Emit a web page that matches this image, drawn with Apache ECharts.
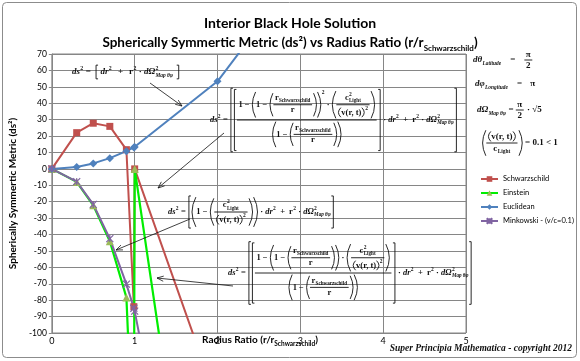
<!DOCTYPE html>
<html><head><meta charset="utf-8">
<script src="https://cdn.jsdelivr.net/npm/echarts@6/dist/echarts.min.js"></script>
<style>html,body{margin:0;padding:0;background:#fff}#c{width:580px;height:361px}</style>
</head><body><div id="c"></div><script>
// ---- data ----
const radiusRatio   = [0, 0.3, 0.5, 0.7, 0.9, 0.99, 1, 2, 3];
const schwarzschild = [0, 22.07, 27.83, 25.90, 11.70, -83.95, 0, -142.65, -475.5];
const einstein      = [0, -7.93, -22.17, -44.10, -78.30, -182.95, 0, -342.65, -775.5];
const euclidean     = [0, 1.20, 3.33, 6.54, 10.80, 13.07, 13.34, 53.35, 120.0];
const minkowski     = [0, -7.80, -21.67, -42.46, -70.20, -84.94, -86.66, -346.65, -779.97];
const seriesNames   = ['Schwarzschild', 'Einstein', 'Euclidean', 'Minkowski - (v/c=0.1)'];
const xRange = [0, 5], xStep = 1;
const yRange = [-100, 70], yStep = 10;

function pairs(ys){ return radiusRatio.map((x,i)=>[x, ys[i]]); }

// ---- tiny math-layout helper for the equation annotations ----
const MF = '"Liberation Serif","DejaVu Serif",serif';
const mctx = document.createElement('canvas').getContext('2d');
let BASE = 8.5;
function fnt(sz,it){ return (it?'italic ':'')+'bold '+sz+'px '+MF; }
function T(s,sz,it){ sz=sz||BASE; const f=fnt(sz,it); mctx.font=f; const w=mctx.measureText(s).width;
  return {w:w,a:sz*0.42,d:sz*0.42,draw(x,y,o){o.push({type:'text',x:x,y:y,silent:true,z:20,
    style:{text:s,font:f,fill:'#111',textAlign:'left',textVerticalAlign:'middle',align:'left',verticalAlign:'middle'}});}};}
function Sp(w){ return {w:w,a:0,d:0,draw(){}}; }
function R(){ const it=[].slice.call(arguments); let w=0,a=0,d=0;
  it.forEach(n=>{w+=n.w;a=Math.max(a,n.a);d=Math.max(d,n.d);});
  return {w:w,a:a,d:d,draw(x,y,o){let cx=x; it.forEach(n=>{n.draw(cx,y,o);cx+=n.w;});}}; }
function F(num,den){ const pad=1.5,g=1.6; const w=Math.max(num.w,den.w)+2*pad;
  return {w:w+1,a:num.a+num.d+g,d:den.a+den.d+g,draw(x,y,o){
    num.draw(x+(w-num.w)/2,y-g-num.d,o); den.draw(x+(w-den.w)/2,y+g+den.a,o);
    o.push({type:'line',silent:true,z:20,shape:{x1:x,y1:y,x2:x+w,y2:y},style:{stroke:'#111',lineWidth:0.9}});}}; }
function delim(t,x,y,h,dw,left,o){
  const st={stroke:'#111',lineWidth:0.9,fill:'none'};
  if(t==='['||t===']'){
    const pts = left ? [[x+dw,y-h],[x+1,y-h],[x+1,y+h],[x+dw,y+h]] : [[x,y-h],[x+dw-1,y-h],[x+dw-1,y+h],[x,y+h]];
    o.push({type:'polyline',silent:true,z:20,shape:{points:pts},style:st});
  } else {
    const xt = left ? x+dw : x, xc = left ? x+0.6 : x+dw-0.6, cp = 2*xc-xt;
    o.push({type:'bezierCurve',silent:true,z:20,shape:{x1:xt,y1:y-h,x2:xt,y2:y+h,cpx1:cp,cpy1:y},style:st});
  } }
function D(c,l,r){ const h=Math.max(c.a,c.d)+1.2; const dw=l==='['?3:Math.max(3,Math.min(5,h*0.3));
  return {w:c.w+2*dw+1,a:h,d:h,draw(x,y,o){ delim(l,x,y,h,dw,true,o); c.draw(x+dw+0.5,y,o); delim(r,x+dw+1+c.w,y,h,dw,false,o);}}; }
function SS(b,sp,sb){ const so=Math.max(3.2,b.a-1), bo=Math.max(2.8,b.d-0.5);
  const w=b.w+Math.max(sp?sp.w:0,sb?sb.w:0)+0.5;
  return {w:w,a:Math.max(b.a,sp?so+sp.a:0),d:Math.max(b.d,sb?bo+sb.d:0),draw(x,y,o){
    b.draw(x,y,o); if(sp) sp.draw(x+b.w+0.3,y-so,o); if(sb) sb.draw(x+b.w+0.3,y+bo,o);}}; }
function sup2(n){ return SS(n,T('2',BASE*0.65),null); }
function sub(n,s,it){ return SS(n,null,T(s,BASE*0.6,it)); }
const rsOverR = ()=>F(sub(T('r'),'Schwarzschild'),T('r'));
const cOverV  = ()=>F(SS(T('c'),T('2',BASE*0.65),T('Light',BASE*0.6)), sup2(D(T('v(r, t)'),'(',')')));
const dOmega  = ()=>SS(T('dΩ',BASE,true),T('2',BASE*0.65),T('Map θφ',BASE*0.6,true));
const tail    = ()=>R(T(' · '),sup2(T('dr',BASE,true)),Sp(2),T(' + '),Sp(2),sup2(T('r')),T(' · '),dOmega());
const lhs     = ()=>R(sup2(T('ds',BASE,true)),T(' = '));
const oneMinusRs = ()=>D(R(T('1 − '),D(rsOverR(),'(',')')),'(',')');

const G = [];
function place(node,x,y){ node.draw(x,y,G); }
function arrow(x1,y1,x2,y2){
  G.push({type:'line',silent:true,z:20,shape:{x1:x1,y1:y1,x2:x2,y2:y2},style:{stroke:'#111',lineWidth:0.8}});
  const an=Math.atan2(y2-y1,x2-x1),L=7,s=0.38;
  G.push({type:'polyline',silent:true,z:20,shape:{points:[[x2-L*Math.cos(an-s),y2-L*Math.sin(an-s)],[x2,y2],[x2-L*Math.cos(an+s),y2-L*Math.sin(an+s)]]},style:{stroke:'#111',lineWidth:0.8,fill:'none'}});
}

BASE = 9;
place(R(lhs(), Sp(2), D(R(Sp(2),sup2(T('dr',BASE,true)),Sp(6),T('+'),Sp(6),sup2(T('r')),T(' · '),dOmega(),Sp(3)),'[',']')), 72, 72);
BASE = 8.5;
place(R(lhs(), D(R(D(F(R(T('1 − '),sup2(oneMinusRs()),T(' · '),D(cOverV(),'(',')')), oneMinusRs()),'[',']'), tail()),'[',']')), 210, 120);
place(R(lhs(), D(R(D(R(T('1 − '),D(cOverV(),'(',')')),'(',')'), tail()),'[',']')), 168, 212);
place(R(lhs(), D(R(D(F(R(T('1 − '),oneMinusRs(),T(' · '),D(cOverV(),'(',')')), oneMinusRs()),'[',']'), tail()),'[',']')), 228, 273);

BASE = 9;
place(R(sub(T('dθ',BASE,true),'Latitude',true),Sp(9),T('='),Sp(9),F(T('π'),T('2'))), 473, 60);
place(R(sub(T('dφ',BASE,true),'Longitude',true),Sp(9),T('='),Sp(8),T('π')), 475, 84);
place(R(sub(T('dΩ',BASE,true),'Map θφ',true),T(' = '),F(T('π'),T('2')),T(' · '),T('√5')), 477, 110);
place(R(D(F(D(T('v(r, t)'),'(',')'),sub(T('c'),'Light')),'(',')'),T(' = 0.1 < 1')), 482, 143);

arrow(150,83,182,106);
arrow(224,133,158,188);
arrow(190,219,116,250);
arrow(233,286,157,278);

// frame, axis title, footer
G.push({type:'rect',silent:true,z:0,shape:{x:2.5,y:2.5,width:574,height:355,r:4},style:{fill:'none',stroke:'#8c8c8c',lineWidth:1}});
G.push({type:'text',silent:true,z:20,x:260,y:340,style:{text:'{a|Radius Ratio (r/r}{s|Schwarzschild}{a|)}',textAlign:'center',textVerticalAlign:'middle',align:'center',verticalAlign:'middle',
  rich:{a:{fontFamily:'Lato',fontWeight:'bold',fontSize:10,fill:'#000',color:'#000',lineHeight:14},s:{fontFamily:'Lato',fontWeight:'bold',fontSize:6.5,fill:'#000',color:'#000',lineHeight:14,verticalAlign:'bottom',padding:[4,0,0,0]}}}});
G.push({type:'text',silent:true,z:20,x:572,y:349,style:{text:'Super Principia Mathematica - copyright 2012',font:'italic bold 9.5px '+MF,fill:'#111',textAlign:'right',textVerticalAlign:'middle',align:'right',verticalAlign:'middle'}});

const chart = echarts.init(document.getElementById('c'));
const axisGray = '#868686';
chart.setOption({
  animation:false,
  backgroundColor:'#fff',
  title:{
    left:'center', top:9,
    text:'{t|Interior Black Hole Solution}\n{a|Spherically Symmertic Metric (ds²) vs Radius Ratio (r/r}{s|Schwarzschild}{a|)}',
    textStyle:{rich:{
      t:{fontFamily:'Lato',fontWeight:'bold',fontSize:14,lineHeight:19,color:'#000'},
      a:{fontFamily:'Lato',fontWeight:'bold',fontSize:13.5,lineHeight:19,color:'#000'},
      s:{fontFamily:'Lato',fontWeight:'bold',fontSize:8,lineHeight:19,color:'#000',verticalAlign:'bottom',padding:[5,0,0,0]}
    }}
  },
  grid:{left:51,right:114,top:54,bottom:28,show:true,borderColor:axisGray,borderWidth:1},
  legend:{orient:'vertical',left:475,top:170,itemWidth:17,itemHeight:7,itemGap:6,
    textStyle:{fontFamily:'Lato',fontSize:7.5,color:'#000'},data:seriesNames},
  xAxis:{type:'value',min:xRange[0],max:xRange[1],interval:xStep,
    axisLine:{onZero:true,lineStyle:{color:axisGray}},
    axisTick:{show:true,length:3,lineStyle:{color:axisGray}},
    axisLabel:{fontFamily:'Lato',fontSize:9,color:'#000',margin:4},
    splitLine:{show:true,lineStyle:{color:axisGray,width:1}}},
  yAxis:{type:'value',min:yRange[0],max:yRange[1],interval:yStep,
    name:'Spherically Symmertic Metric (ds²)',nameLocation:'middle',nameGap:27,
    nameTextStyle:{fontFamily:'Lato',fontWeight:'bold',fontSize:10,color:'#000'},
    axisLine:{show:true,onZero:false,lineStyle:{color:axisGray}},
    axisTick:{show:true,length:3,lineStyle:{color:axisGray}},
    axisLabel:{fontFamily:'Lato',fontSize:8.5,color:'#000',margin:5},
    splitLine:{show:true,lineStyle:{color:axisGray,width:1}}},
  graphic:{elements:G},
  series:[
    {name:seriesNames[0],type:'line',data:pairs(schwarzschild),clip:true,symbol:'rect',symbolSize:7,
      lineStyle:{color:'#C0504D',width:2},itemStyle:{color:'#C0504D'}},
    {name:seriesNames[1],type:'line',data:pairs(einstein),clip:true,symbol:'triangle',symbolSize:8,
      lineStyle:{color:'#00EE00',width:2.2},itemStyle:{color:'#9BBB59'}},
    {name:seriesNames[2],type:'line',data:pairs(euclidean),clip:true,symbol:'diamond',symbolSize:8,
      lineStyle:{color:'#4F81BD',width:2},itemStyle:{color:'#4F81BD'}},
    {name:seriesNames[3],type:'line',data:pairs(minkowski),clip:true,symbol:'path://M0,0L10,10M10,0L0,10M5,0L5,10',symbolSize:7,
      lineStyle:{color:'#8064A2',width:2},itemStyle:{color:'rgba(0,0,0,0)',borderColor:'#8064A2',borderWidth:1.2}}
  ]
});
</script></body></html>
